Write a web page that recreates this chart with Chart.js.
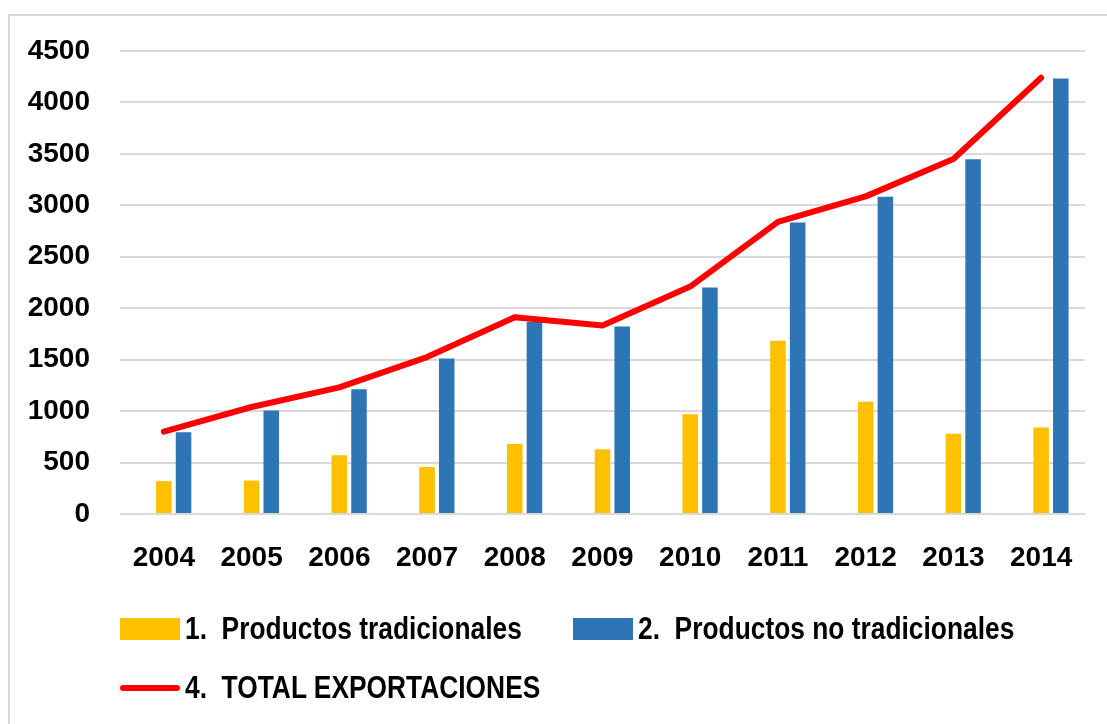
<!DOCTYPE html>
<html>
<head>
<meta charset="utf-8">
<script src="https://cdn.jsdelivr.net/npm/chart.js@4"></script>
<style>
  html, body { margin: 0; padding: 0; background: #fff; overflow: hidden; }
  #frame {
    position: absolute; left: 8px; top: 14px; width: 1200px; height: 800px;
    border: 2px solid #d9d9d9; box-sizing: border-box;
  }
  #wrap { position: absolute; left: 0; top: 0; width: 1107px; height: 724px; }
  #legend {
    position: absolute; left: 120px; top: 610px; width: 960px;
    font-family: "Liberation Sans", Arial, sans-serif;
    font-weight: bold; font-size: 31px; color: #000;
  }
  .row { display: flex; align-items: center; height: 38px; margin-bottom: 21px; }
  .item { display: flex; align-items: center; white-space: pre; }
  .item:first-child { width: 453px; }
  .swatch { width: 60px; height: 22px; margin-right: 5px; flex: none; }
  .swatch.line { height: 6px; border-radius: 3px; }
  .txt { display: inline-block; transform: scaleX(0.85); transform-origin: left center; }
</style>
</head>
<body>
<div id="frame"></div>
<div id="wrap"><canvas id="chart" width="1107" height="724"></canvas></div>
<div id="legend"></div>
<script>
const years = ['2004', '2005', '2006', '2007', '2008', '2009', '2010', '2011', '2012', '2013', '2014'];
const tradicionales = [320, 325, 570, 457, 680, 630, 970, 1683, 1090, 780, 840];
const noTradicionales = [795, 1005, 1213, 1511, 1865, 1822, 2202, 2834, 3084, 3447, 4233];
const totalExportaciones = [800, 1040, 1230, 1525, 1912, 1832, 2210, 2840, 3087, 3450, 4240];
const emptySeries = [null, null, null, null, null, null, null, null, null, null, null];
const yTicks = [0, 500, 1000, 1500, 2000, 2500, 3000, 3500, 4000, 4500];

const tickFont = { family: '"Liberation Sans", Arial, sans-serif', size: 28, weight: 'bold' };

// html legend built from the chart's own legend items
const htmlLegend = {
  id: 'htmlLegend',
  afterUpdate(chart) {
    const box = document.getElementById('legend');
    box.innerHTML = '';
    const items = chart.options.plugins.legend.labels.generateLabels(chart)
      .filter((it) => chart.data.datasets[it.datasetIndex].showInLegend !== false);
    const rows = [items.filter((it) => chart.data.datasets[it.datasetIndex].type !== 'line'),
                  items.filter((it) => chart.data.datasets[it.datasetIndex].type === 'line')];
    rows.forEach((rowItems) => {
      const row = document.createElement('div');
      row.className = 'row';
      rowItems.forEach((it) => {
        const ds = chart.data.datasets[it.datasetIndex];
        const item = document.createElement('div');
        item.className = 'item';
        const sw = document.createElement('span');
        sw.className = ds.type === 'line' ? 'swatch line' : 'swatch';
        sw.style.background = ds.type === 'line' ? ds.borderColor : ds.backgroundColor;
        const txt = document.createElement('span');
        txt.className = 'txt';
        txt.textContent = it.text;
        item.appendChild(sw);
        item.appendChild(txt);
        row.appendChild(item);
      });
      box.appendChild(row);
    });
  }
};

const ctx = document.getElementById('chart').getContext('2d');
new Chart(ctx, {
  data: {
    labels: years,
    datasets: [
      {
        type: 'line',
        label: '4.  TOTAL EXPORTACIONES',
        data: totalExportaciones,
        borderColor: '#ff0000',
        backgroundColor: '#ff0000',
        borderWidth: 6,
        borderCapStyle: 'round',
        borderJoinStyle: 'round',
        pointRadius: 0,
        tension: 0,
        order: 0,
      },
      {
        type: 'bar',
        label: '3.',
        data: emptySeries,
        backgroundColor: '#a5a5a5',
        showInLegend: false,
        order: 1,
      },
      {
        type: 'bar',
        label: '1.  Productos tradicionales',
        data: tradicionales,
        backgroundColor: '#ffc000',
        order: 1,
      },
      {
        type: 'bar',
        label: '2.  Productos no tradicionales',
        data: noTradicionales,
        backgroundColor: '#2e75b6',
        order: 1,
      },
    ],
  },
  options: {
    responsive: false,
    animation: false,
    datasets: {
      bar: { categoryPercentage: 0.673, barPercentage: 0.79 },
    },
    layout: { padding: { left: 28, right: 22, top: 51, bottom: 130 } },
    plugins: {
      legend: { display: false },
      tooltip: { enabled: false },
    },
    scales: {
      x: {
        afterFit: (axis) => { axis.height = 80; },
        grid: { display: false, drawTicks: false },
        border: { display: false },
        ticks: { color: '#000', font: tickFont, padding: 27 },
      },
      y: {
        min: 0,
        max: 4500,
        afterBuildTicks: (axis) => { axis.ticks = yTicks.map((v) => ({ value: v })); },
        afterFit: (axis) => { axis.width = 92; },
        grid: { color: '#d9d9d9', lineWidth: 2, drawTicks: false },
        border: { display: false },
        ticks: { color: '#000', font: tickFont, padding: 30, callback: (value) => String(value) },
      },
    },
  },
  plugins: [htmlLegend],
});
</script>
</body>
</html>
